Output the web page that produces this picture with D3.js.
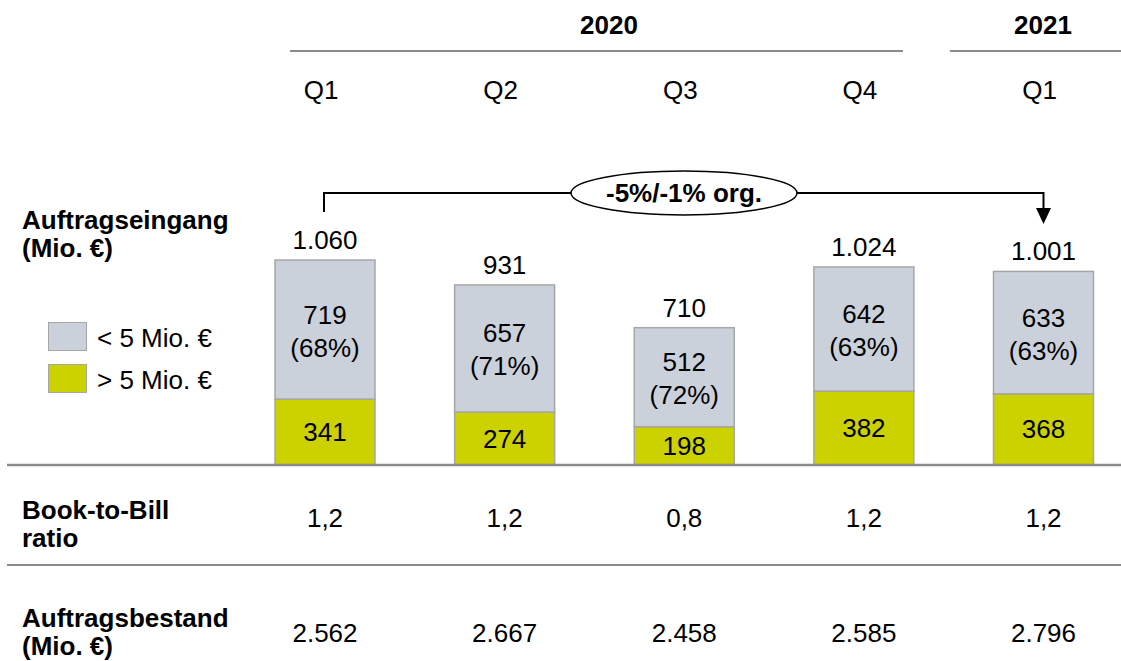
<!DOCTYPE html>
<html>
<head>
<meta charset="utf-8">
<script src="https://cdn.jsdelivr.net/npm/d3@7"></script>
<style>
  body { margin: 0; background: #fff; }
  text { font-family: "Liberation Sans", Arial, sans-serif; fill: #000; font-size: 26px; }
</style>
</head>
<body>
<div id="chart"></div>
<script>
// daten
var years = ['2020', '2021']
var quarters = ['Q1', 'Q2', 'Q3', 'Q4', 'Q1']
var small = [719, 657, 512, 642, 633]      // < 5 Mio. €
var large = [341, 274, 198, 382, 368]      // > 5 Mio. €
var shares = [68, 71, 72, 63, 63]
var bookToBill = [1.2, 1.2, 0.8, 1.2, 1.2]
var backlog = [2562, 2667, 2458, 2585, 2796]
var growthLabel = '-5%/-1% org.'

var W = 1121, H = 661
var de = d3.formatLocale({ decimal: ',', thousands: '.', grouping: [3], currency: ['', ' €'] })
var fmtInt = de.format(',d')
var fmtDec = de.format('.1f')

var colSmall = '#cbd1da', colLarge = '#ccd100', colEdge = '#a6a6a6', colRule = '#8c8c8c'

var svg = d3.select('#chart').append('svg').attr('width', W).attr('height', H)

var x = d3.scalePoint().domain(d3.range(5)).range([325, 1043.5])
var y = d3.scaleLinear().domain([0, 1060]).range([465, 260])
var bw = 100

// kopfzeile
svg.append('text').attr('x', 609).attr('y', 34).attr('text-anchor', 'middle')
  .style('font-weight', 'bold').text(years[0])
svg.append('text').attr('x', 1043).attr('y', 34).attr('text-anchor', 'middle')
  .style('font-weight', 'bold').text(years[1])
svg.append('line').attr('x1', 290).attr('x2', 903).attr('y1', 51).attr('y2', 51)
  .attr('stroke', colRule).attr('stroke-width', 2)
svg.append('line').attr('x1', 950).attr('x2', W).attr('y1', 51).attr('y2', 51)
  .attr('stroke', colRule).attr('stroke-width', 2)

svg.selectAll('.q').data(quarters).enter().append('text')
  .attr('x', function (d, i) { return x(i) - 4 })
  .attr('y', 99)
  .attr('text-anchor', 'middle')
  .text(function (d) { return d })

// zeilenbeschriftung
function rowLabel(lines, x0, y0) {
  var t = svg.append('text').attr('x', x0).attr('y', y0)
    .style('font-weight', 'bold')
  lines.forEach(function (l, i) {
    t.append('tspan').attr('x', x0).attr('dy', i == 0 ? 0 : 28).text(l)
  })
}
rowLabel(['Auftragseingang', '(Mio. €)'], 22, 229)
rowLabel(['Book-to-Bill', 'ratio'], 22, 519)
rowLabel(['Auftragsbestand', '(Mio. €)'], 22, 627)

// legende
var leg = [{ c: colSmall, t: '< 5 Mio. €', y: 322 }, { c: colLarge, t: '> 5 Mio. €', y: 364 }]
leg.forEach(function (l) {
  svg.append('rect').attr('x', 48.5).attr('y', l.y + 0.5).attr('width', 38).attr('height', 28)
    .attr('fill', l.c).attr('stroke', colEdge).attr('stroke-width', 1)
  svg.append('text').attr('x', 97).attr('y', l.y + 25).text(l.t)
})

// balken
var g = svg.selectAll('.bar').data(quarters).enter().append('g')
g.append('rect')
  .attr('x', function (d, i) { return x(i) - bw / 2 })
  .attr('y', function (d, i) { return y(large[i]) })
  .attr('width', bw)
  .attr('height', function (d, i) { return y(0) - y(large[i]) })
  .attr('fill', colLarge).attr('stroke', colEdge).attr('stroke-width', 1.5)
g.append('rect')
  .attr('x', function (d, i) { return x(i) - bw / 2 })
  .attr('y', function (d, i) { return y(large[i] + small[i]) })
  .attr('width', bw)
  .attr('height', function (d, i) { return y(large[i]) - y(large[i] + small[i]) })
  .attr('fill', colSmall).attr('stroke', colEdge).attr('stroke-width', 1.5)

// summen
g.append('text')
  .attr('x', function (d, i) { return x(i) })
  .attr('y', function (d, i) { return y(large[i] + small[i]) - 11 })
  .attr('text-anchor', 'middle')
  .text(function (d, i) { return fmtInt(large[i] + small[i]) })

// werte grau
g.append('text')
  .attr('x', function (d, i) { return x(i) })
  .attr('y', function (d, i) { return (y(large[i]) + y(large[i] + small[i])) / 2 - 6 })
  .attr('text-anchor', 'middle')
  .text(function (d, i) { return small[i] })
g.append('text')
  .attr('x', function (d, i) { return x(i) })
  .attr('y', function (d, i) { return (y(large[i]) + y(large[i] + small[i])) / 2 + 27 })
  .attr('text-anchor', 'middle')
  .text(function (d, i) { return '(' + shares[i] + '%)' })

// werte gelb
g.append('text')
  .attr('x', function (d, i) { return x(i) })
  .attr('y', function (d, i) { return (y(0) + y(large[i])) / 2 + 9 })
  .attr('text-anchor', 'middle')
  .text(function (d, i) { return large[i] })

// linien
svg.append('line').attr('x1', 7).attr('x2', W).attr('y1', 465).attr('y2', 465)
  .attr('stroke', colRule).attr('stroke-width', 2.5)
svg.append('line').attr('x1', 7).attr('x2', W).attr('y1', 565).attr('y2', 565)
  .attr('stroke', colRule).attr('stroke-width', 2)

// book-to-bill, auftragsbestand
svg.selectAll('.btb').data(bookToBill).enter().append('text')
  .attr('x', function (d, i) { return x(i) }).attr('y', 527)
  .attr('text-anchor', 'middle')
  .text(function (d) { return fmtDec(d) })
svg.selectAll('.bl').data(backlog).enter().append('text')
  .attr('x', function (d, i) { return x(i) }).attr('y', 642)
  .attr('text-anchor', 'middle')
  .text(function (d) { return fmtInt(d) })

// klammer mit pfeil
var ly = 193, ex = 684, erx = 113, ery = 22
var x0 = x(0) - 1, x4 = x(4)
svg.append('path')
  .attr('d', 'M' + x0 + ',' + 212 + 'V' + ly + 'H' + (ex - erx))
  .attr('fill', 'none').attr('stroke', '#000').attr('stroke-width', 2)
svg.append('path')
  .attr('d', 'M' + (ex + erx) + ',' + ly + 'H' + x4 + 'V' + 209)
  .attr('fill', 'none').attr('stroke', '#000').attr('stroke-width', 2)
svg.append('path')
  .attr('d', 'M' + (x4 - 7.5) + ',208L' + (x4 + 7.5) + ',208L' + x4 + ',224Z')
  .attr('fill', '#000')
svg.append('ellipse').attr('cx', ex).attr('cy', ly).attr('rx', erx).attr('ry', ery)
  .attr('fill', '#fff').attr('stroke', '#000').attr('stroke-width', 1.5)
svg.append('text').attr('x', ex).attr('y', ly + 9).attr('text-anchor', 'middle')
  .style('font-weight', 'bold').text(growthLabel)
</script>
</body>
</html>
